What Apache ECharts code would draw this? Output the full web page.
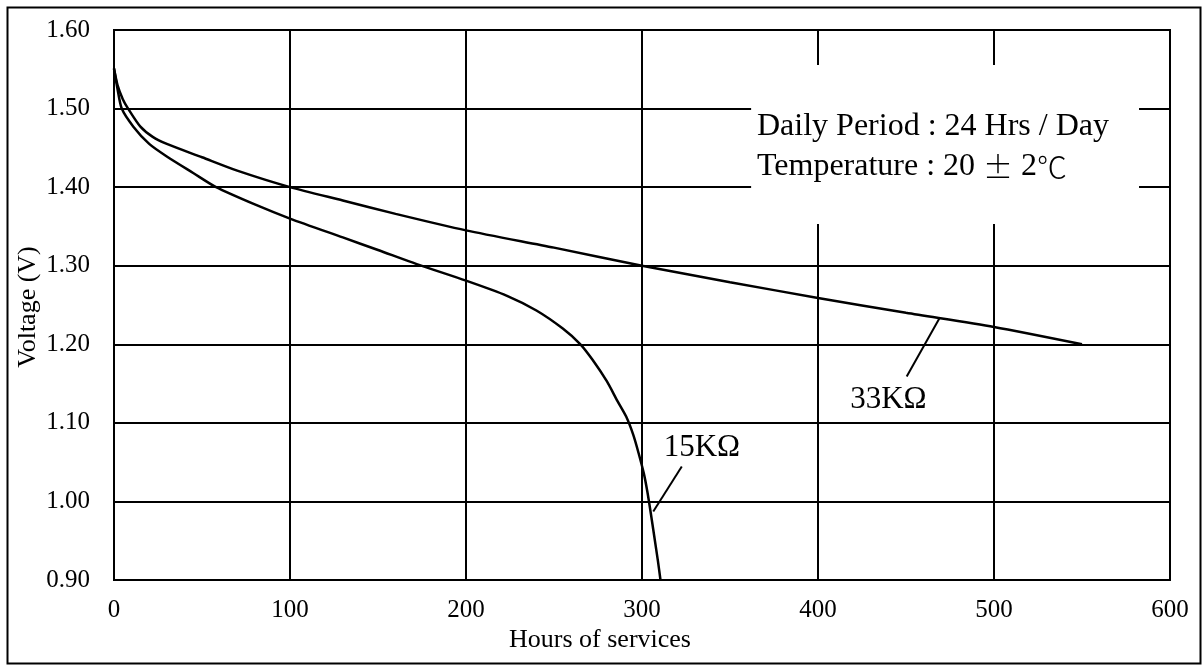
<!DOCTYPE html>
<html>
<head>
<meta charset="utf-8">
<script src="https://cdn.jsdelivr.net/npm/echarts@6/dist/echarts.min.js"></script>
<style>
html,body{margin:0;padding:0;background:#fff;}
#chart{width:1203px;height:666px;}
</style>
</head>
<body>
<div id="chart"></div>
<script>
// Hours of service vs voltage
const hours33k = [0, 2, 5, 8, 15, 22, 30, 50, 70, 100, 130, 160, 200, 250, 300, 350, 400, 450, 500, 550];
const volts33k = [1.551, 1.530, 1.512, 1.500, 1.477, 1.464, 1.455, 1.438, 1.421, 1.400, 1.383, 1.366, 1.345, 1.323, 1.300, 1.279, 1.259, 1.240, 1.222, 1.200];

const hours15k = [0, 2, 4.4, 11, 20, 30, 45, 58, 80, 100, 130, 150, 172, 200, 223, 240, 255, 265, 272, 280, 286, 291, 295, 298, 301, 303, 305, 307, 309, 310.5];
const volts15k = [1.551, 1.525, 1.500, 1.477, 1.455, 1.439, 1.418, 1.400, 1.378, 1.360, 1.336, 1.320, 1.302, 1.281, 1.262, 1.243, 1.220, 1.200, 1.180, 1.153, 1.128, 1.108, 1.085, 1.062, 1.036, 1.013, 0.985, 0.955, 0.925, 0.900];

const xTicks = [0, 100, 200, 300, 400, 500, 600];
const yTicks = ['0.90', '1.00', '1.10', '1.20', '1.30', '1.40', '1.50', '1.60'];

const seriesNames = ['33KΩ', '15KΩ'];
const labelPos = [[440, 1.129], [334, 1.068]];
const leaderLines = [
  [[450.4, 1.159], [469, 1.2332]],
  [[322.6, 1.0444], [306.4, 0.9871]]
];
const noteBox = [[362, 1.5555], [582.4, 1.3532]];
const xName = 'Hours of services';
const yName = 'Voltage (V)';

const FONT = '"Liberation Serif", "Times New Roman", serif';
const CJK = '"Noto Sans CJK JP", "Noto Sans CJK SC", sans-serif';

function pairs(xs, ys) { return xs.map((x, i) => [x, ys[i]]); }

const chart = echarts.init(document.getElementById('chart'), null, {renderer: 'canvas'});

function makeSeries(name, data, idx) {
  return {
    name: name,
    type: 'line',
    data: data,
    smooth: 0.25,
    showSymbol: false,
    symbol: 'none',
    lineStyle: {color: '#000', width: 2.5},
    z: 5,
    markLine: {
      silent: true,
      symbol: ['none', 'none'],
      lineStyle: {color: '#000', width: 2, type: 'solid'},
      label: {show: false},
      data: [[{coord: leaderLines[idx][0]}, {coord: leaderLines[idx][1]}]]
    },
    markPoint: {
      silent: true,
      data: [{
        coord: labelPos[idx],
        symbol: 'circle',
        symbolSize: 1,
        itemStyle: {color: 'rgba(0,0,0,0)'},
        label: {
          show: true,
          position: 'inside',
          formatter: name,
          color: '#000',
          fontFamily: FONT,
          fontSize: 31
        }
      }]
    }
  };
}

const s1 = makeSeries(seriesNames[0], pairs(hours33k, volts33k), 0);
s1.markArea = {
  silent: true,
  itemStyle: {color: '#fff', borderWidth: 0},
  label: {show: false},
  data: [[{coord: noteBox[0]}, {coord: noteBox[1]}]]
};
const s2 = makeSeries(seriesNames[1], pairs(hours15k, volts15k), 1);

chart.setOption({
  backgroundColor: '#fff',
  animation: false,
  grid: {
    left: 114, right: 33, top: 30, bottom: 86,
    show: true, borderColor: '#000', borderWidth: 2, backgroundColor: 'transparent'
  },
  xAxis: {
    type: 'value',
    min: 0, max: 600, interval: 100,
    axisLine: {show: true, lineStyle: {color: '#000', width: 2}},
    axisTick: {show: false},
    splitLine: {show: true, lineStyle: {color: '#000', width: 2}},
    axisLabel: {
      color: '#000', fontFamily: FONT, fontSize: 25, margin: 18,
      formatter: function (v) { return xTicks.indexOf(v) >= 0 ? String(v) : ''; }
    }
  },
  yAxis: {
    type: 'value',
    min: 0.9, max: 1.6, interval: 0.1,
    axisLine: {show: true, lineStyle: {color: '#000', width: 2}},
    axisTick: {show: false},
    splitLine: {show: true, lineStyle: {color: '#000', width: 2}},
    axisLabel: {
      color: '#000', fontFamily: FONT, fontSize: 25, margin: 24,
      formatter: function (v) {
        const s = v.toFixed(2);
        return yTicks.indexOf(s) >= 0 ? s : '';
      }
    }
  },
  graphic: [
    {
      type: 'rect', left: 5, top: 5, z: 100, silent: true,
      shape: {width: 1193, height: 656},
      style: {fill: 'none', stroke: '#000', lineWidth: 2}
    },
    {
      type: 'text', x: 757, y: 127, z: 100, silent: true,
      style: {text: 'Daily Period : 24 Hrs / Day', font: '32px ' + FONT, fill: '#000', textAlign: 'left', textVerticalAlign: 'middle'}
    },
    {
      type: 'text', x: 757, y: 167, z: 100, silent: true,
      style: {
        text: '{a|Temperature : 20 }{b|±}{a| 2}{b|℃}',
        fill: '#000', textAlign: 'left', textVerticalAlign: 'middle',
        rich: {
          a: {fontFamily: FONT, fontSize: 32, fill: '#000', color: '#000'},
          b: {fontFamily: CJK, fontSize: 30, fontWeight: 300, fill: '#000', color: '#000'}
        }
      }
    },
    {
      type: 'text', x: 600, y: 640, z: 100, silent: true,
      style: {text: xName, font: '26px ' + FONT, fill: '#000', textAlign: 'center', textVerticalAlign: 'middle'}
    },
    {
      type: 'text', x: 28, y: 307, rotation: Math.PI / 2, z: 100, silent: true,
      style: {text: yName, font: '26px ' + FONT, fill: '#000', textAlign: 'center', textVerticalAlign: 'middle'}
    }
  ],
  series: [s1, s2]
});
</script>
</body>
</html>
